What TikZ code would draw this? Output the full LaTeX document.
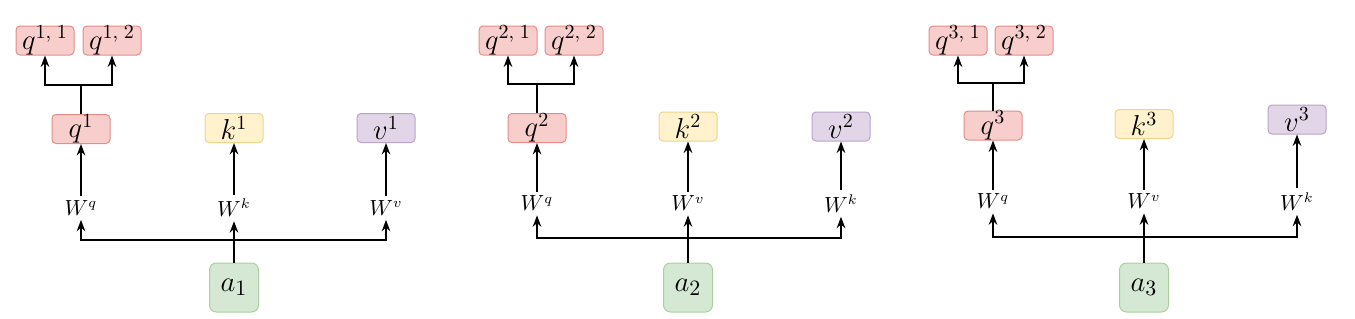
\documentclass[tikz,border=0pt]{standalone}
\usepackage{tikz}
\usetikzlibrary{arrows.meta,positioning}
\definecolor{qfill}{HTML}{F8CECC}
\definecolor{qline}{HTML}{E38D8B}
\definecolor{kfill}{HTML}{FFF2CC}
\definecolor{kline}{HTML}{EDD58E}
\definecolor{vfill}{HTML}{E1D5E7}
\definecolor{vline}{HTML}{BBA4C8}
\definecolor{afill}{HTML}{D5E8D4}
\definecolor{aline}{HTML}{A9D09C}
\tikzset{
    headblock/.style={draw, rounded corners=2pt, align=center, font=\fontsize{14.5}{16}\selectfont, minimum width=29pt, minimum height=14.5pt, inner sep=0pt, line width=0.5pt},
    qblock/.style={headblock, fill=qfill, draw=qline},
    kblock/.style={headblock, fill=kfill, draw=kline},
    vblock/.style={headblock, fill=vfill, draw=vline},
    inblock/.style={draw=aline, fill=afill, rounded corners=3.5pt, align=center, font=\fontsize{15}{17}\selectfont, minimum size=24.5pt, inner sep=0pt, line width=0.5pt},
    weightnote/.style={align=center, font=\fontsize{10.5}{12}\selectfont, inner sep=2pt},
    flowarrow/.style={-{Stealth[length=2mm, width=1.5mm]}, line width=0.9pt},
    flowline/.style={line width=0.9pt}
}
\begin{document}
\begin{tikzpicture}[x=0.5pt, y=-0.5pt]
        \useasboundingbox[fill=white] (0,0) rectangle (1355,318);
        % head 1
        \node[inblock] (a1) at (234,287.5) {$a_1$};
        \node[weightnote] (wq1) at (81,208) {$W^q$};
        \node[weightnote] (wk1) at (234,208) {$W^k$};
        \node[weightnote] (wv1) at (386,208) {$W^v$};
        \node[qblock] (q1) at (81,129) {$q^1$};
        \node[kblock] (k1) at (234,128) {$k^1$};
        \node[vblock] (v1) at (386,128) {$v^1$};
        \node[qblock] (q11) at (45,40.5) {$q^{1,\;1}$};
        \node[qblock] (q12) at (112,40.5) {$q^{1,\;2}$};
        \coordinate (j1) at (234,240);
        \coordinate (s1) at (81,85);
        \draw[flowarrow] (a1) -- (wk1);
        \draw[flowarrow] (j1) -| (wq1);
        \draw[flowarrow] (j1) -| (wv1);
        \draw[flowarrow] (wq1) -- (q1);
        \draw[flowarrow] (wk1) -- (k1);
        \draw[flowarrow] (wv1) -- (v1);
        \draw[flowline] (q1) -- (s1);
        \draw[flowarrow] (s1) -| (q11);
        \draw[flowarrow] (s1) -| (q12);
        % head 2
        \node[inblock] (a2) at (688,287.5) {$a_2$};
        \node[weightnote] (wq2) at (537,203.5) {$W^q$};
        \node[weightnote] (wv2) at (688,203.5) {$W^v$};
        \node[weightnote] (wk2) at (841,203.5) {$W^k$};
        \node[qblock] (q2) at (537,128) {$q^2$};
        \node[kblock] (k2) at (688,126.5) {$k^2$};
        \node[vblock] (v2) at (841,126.5) {$v^2$};
        \node[qblock] (q21) at (508,40.5) {$q^{2,\;1}$};
        \node[qblock] (q22) at (574,40.5) {$q^{2,\;2}$};
        \coordinate (j2) at (688,238);
        \coordinate (s2) at (537,84);
        \draw[flowarrow] (a2) -- (wv2);
        \draw[flowarrow] (j2) -| (wq2);
        \draw[flowarrow] (j2) -| (wk2);
        \draw[flowarrow] (wq2) -- (q2);
        \draw[flowarrow] (wv2) -- (k2);
        \draw[flowarrow] (wk2) -- (v2);
        \draw[flowline] (q2) -- (s2);
        \draw[flowarrow] (s2) -| (q21);
        \draw[flowarrow] (s2) -| (q22);
        % head 3
        \node[inblock] (a3) at (1144,287.5) {$a_3$};
        \node[weightnote] (wq3) at (993,201.5) {$W^q$};
        \node[weightnote] (wv3) at (1144,201.5) {$W^v$};
        \node[weightnote] (wk3) at (1297,201.5) {$W^k$};
        \node[qblock] (q3) at (993,125.5) {$q^3$};
        \node[kblock] (k3) at (1144,124) {$k^3$};
        \node[vblock] (v3) at (1297,119.5) {$v^3$};
        \node[qblock] (q31) at (958,40.5) {$q^{3,\;1}$};
        \node[qblock] (q32) at (1024,40.5) {$q^{3,\;2}$};
        \coordinate (j3) at (1144,237);
        \coordinate (s3) at (993,83);
        \draw[flowarrow] (a3) -- (wv3);
        \draw[flowarrow] (j3) -| (wq3);
        \draw[flowarrow] (j3) -| (wk3);
        \draw[flowarrow] (wq3) -- (q3);
        \draw[flowarrow] (wv3) -- (k3);
        \draw[flowarrow] (wk3) -- (v3);
        \draw[flowline] (q3) -- (s3);
        \draw[flowarrow] (s3) -| (q31);
        \draw[flowarrow] (s3) -| (q32);
    \end{tikzpicture}
\end{document}
